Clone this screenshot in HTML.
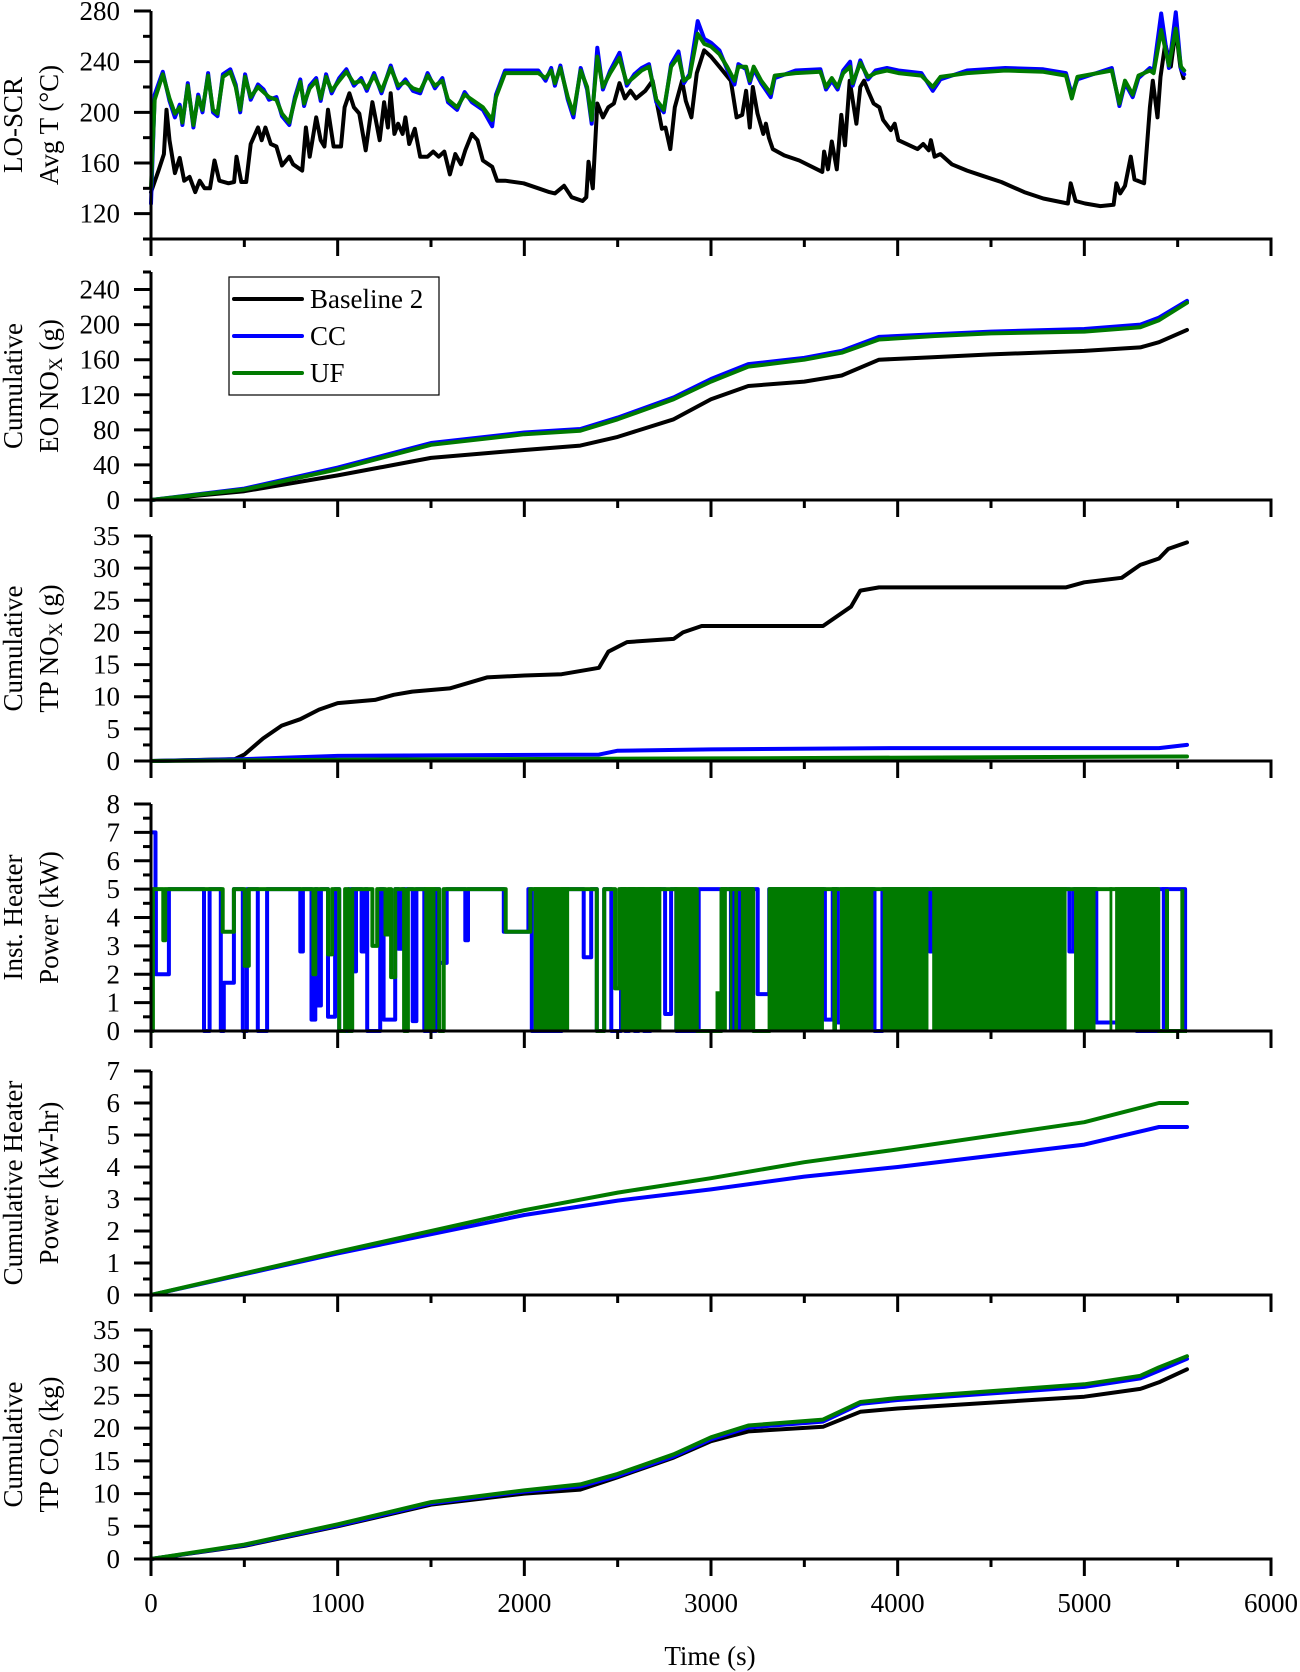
<!DOCTYPE html>
<html><head><meta charset="utf-8"><style>
html,body{margin:0;padding:0;background:#fff}
svg{display:block;font-family:"Liberation Serif",serif}
</style></head><body>
<svg id="chart" width="1300" height="1672" viewBox="0 0 1300 1672" xmlns="http://www.w3.org/2000/svg"></svg>
<script>
// ---- Panel 1: LO-SCR avg T ----
const tempTimesBase=[0,40,69,83,99,128,154,178,207,237,261,287,316,340,366,415,445,458,484,510,534,573,593,613,642,672,702,741,761,810,830,850,885,909,929,948,978,1018,1037,1063,1087,1116,1150,1186,1225,1249,1269,1284,1304,1324,1348,1363,1383,1413,1442,1482,1512,1541,1571,1601,1630,1660,1684,1719,1749,1778,1828,1854,1897,1996,2075,2134,2164,2213,2253,2312,2332,2344,2367,2391,2421,2450,2480,2510,2539,2569,2598,2648,2687,2717,2737,2756,2782,2806,2845,2865,2895,2924,2963,3000,3045,3106,3137,3167,3188,3208,3224,3249,3280,3294,3310,3331,3392,3473,3596,3606,3627,3647,3674,3698,3718,3743,3779,3800,3820,3841,3871,3902,3922,3963,3984,4004,4106,4137,4167,4178,4198,4229,4290,4372,4453,4555,4678,4780,4912,4927,4953,5004,5086,5157,5172,5192,5218,5249,5269,5320,5351,5367,5392,5408,5433,5463,5490,5514,5531];
const tempBase=[137,154,167,202,178,152,164,146,149,137,146,140,140,162,146,144,145,165,145,145,175,188,178,188,175,173,158,165,159,154,188,165,196,178,173,202,173,173,204,215,204,199,170,208,178,208,188,215,183,191,183,196,175,187,165,165,169,165,169,151,167,159,170,183,178,162,157,146,146,144,140,137,136,142,133,130,133,161,140,207,196,204,207,223,211,217,211,217,225,202,187,188,171,204,225,209,196,231,249,244,236,225,196,198,217,188,220,199,183,191,180,171,166,162,153,169,155,177,155,198,174,225,191,220,225,217,207,204,194,186,191,178,171,175,170,178,165,167,159,154,150,145,137,132,128,144,130,128,126,127,144,136,142,165,147,144,204,225,196,228,254,236,266,236,227];
const tempTimesHeat=[0,20,63,99,128,154,168,197,227,253,276,306,332,356,385,425,454,478,504,534,573,603,632,672,702,741,771,800,820,850,885,909,938,968,1008,1047,1087,1126,1156,1195,1235,1284,1324,1363,1403,1442,1482,1521,1561,1591,1640,1680,1719,1778,1828,1848,1897,2075,2114,2144,2164,2193,2233,2263,2302,2336,2361,2391,2421,2460,2510,2549,2589,2628,2668,2707,2747,2786,2826,2855,2885,2929,2964,3000,3045,3086,3126,3147,3188,3208,3229,3269,3320,3341,3453,3586,3616,3647,3678,3708,3745,3759,3800,3841,3882,3943,4004,4127,4188,4229,4372,4576,4780,4902,4933,4963,5147,5188,5218,5259,5290,5351,5371,5412,5453,5490,5518,5535];
const tempUF=[141,210,230,211,199,204,192,221,190,212,202,229,202,199,228,232,220,202,228,212,220,216,212,210,199,192,210,224,207,219,225,211,228,217,225,232,223,225,219,229,217,235,221,224,219,217,229,221,225,210,204,214,210,204,194,212,231,231,227,233,223,235,212,199,233,220,194,244,220,231,243,223,228,233,236,210,202,236,244,225,228,262,254,252,246,236,225,236,236,225,236,225,215,229,231,232,220,227,220,231,236,223,239,228,231,233,231,229,220,228,231,233,232,229,211,228,233,207,225,214,229,233,231,265,237,266,236,233];
const tempCC=[128,214,232,209,196,206,190,223,188,214,200,231,200,197,230,234,222,200,230,210,222,218,210,212,197,190,212,226,205,221,227,209,230,215,227,234,221,227,217,231,215,237,219,226,217,215,231,219,227,208,202,216,208,202,189,214,233,233,225,235,221,237,210,196,235,218,191,251,218,233,247,221,230,235,238,208,200,238,248,223,230,272,258,255,249,234,222,238,234,223,234,223,212,227,233,234,218,225,218,233,240,221,241,226,233,235,233,231,217,226,233,235,234,231,214,226,235,205,223,212,227,235,233,278,235,279,234,230];
// ---- Panel 2: cumulative EO NOx ----
const eoTimes=[0,500,1000,1500,2000,2300,2500,2800,3000,3200,3500,3700,3900,4200,4500,5000,5300,5400,5550];
const eoBase=[0,10,28,48,57,62,72,92,115,130,135,142,160,163,166,170,174,180,194];
const eoCC=[0,13,37,65,77,81,94,117,138,155,162,170,186,189,192,195,200,208,227];
const eoUF=[0,12,35,63,75,79,92,115,135,152,160,168,183,187,190,192,197,205,225];
// ---- Panel 3: cumulative TP NOx ----
const tpTimesBase=[0,300,450,500,600,700,800,900,1000,1200,1300,1400,1600,1800,2000,2200,2400,2450,2550,2800,2850,2950,3600,3750,3800,3900,4900,5000,5200,5300,5400,5450,5550];
const tpBase=[0,0.2,0.3,1,3.5,5.5,6.5,8,9,9.5,10.3,10.8,11.3,13,13.3,13.5,14.5,17,18.5,19,20,21,21,24,26.5,27,27,27.8,28.5,30.5,31.5,33,34];
const tpTimesCC=[0,500,1000,2400,2500,3000,4000,5400,5550];
const tpCC=[0,0.3,0.8,1.0,1.6,1.8,2.0,2.0,2.5];
const tpTimesUF=[0,1000,3000,5550];
const tpUF=[0,0.2,0.4,0.7];
// ---- Panel 4: instantaneous heater power (dips: start, end, level) ----
const heatOn=5;
const ccDips=[[0,22,7],[26,95,2.0],[284,313,0],[373,389,0],[389,442,1.7],[492,512,0],[571,621,0],[800,813,2.8],[859,879,0.4],[889,909,0.9],[948,984,0.5],[1008,1058,0],[1087,1097,2.1],[1127,1147,2.8],[1157,1226,0],[1246,1306,0.4],[1325,1345,2.9],[1401,1421,0.35],[1464,1524,0],[1544,1583,2.4],[1683,1697,3.2],[1890,2020,3.5],[2040,2198,0],[2317,2357,2.6],[2387,2427,0],[2466,2516,0],[2540,2560,0],[2590,2610,0],[2640,2675,0],[2754,2784,0.6],[2814,2933,0],[3250,3311,1.3],[3609,3650,0.4],[3680,3721,0.3],[3875,3916,0],[4172,4180,2.8],[4920,4941,2.8],[5064,5197,0.3],[5279,5391,0],[5540,5550,0]];
const ccBands=[[3096,3209],[5280,5390],[5415,5450]];
const ufDips=[[0,8,0],[65,75,3.2],[383,442,3.5],[502,522,2.3],[869,879,2.0],[948,968,2.7],[1008,1038,0],[1058,1077,0],[1186,1210,3.0],[1256,1270,3.4],[1286,1306,1.9],[1355,1375,0],[1544,1567,0],[1900,2030,3.5],[2387,2427,0],[2486,2506,1.5],[2923,3055,0],[3225,3312,0],[5395,5550,0]];
const ufBands=[[1464,1524],[2050,2240],[2516,2734],[2804,2923],[3055,3085],[3100,3115],[3125,3145],[3160,3225],[3312,3605],[3650,3675],[3690,3870],[3920,4165],[4185,4905],[4945,5060],[5135,5150],[5165,5395]];
const ufPulses=[[3035,1.4],[5443,5],[5525,5]];
// ---- Panel 5: cumulative heater energy ----
const chTimes=[0,1000,2000,2500,3000,3500,4000,5000,5400,5550];
const chCC=[0,1.3,2.5,2.95,3.3,3.7,4.0,4.7,5.25,5.25];
const chUF=[0,1.35,2.65,3.2,3.65,4.15,4.55,5.4,6.0,6.0];
// ---- Panel 6: cumulative TP CO2 ----
const co2Times=[0,500,1000,1500,2000,2300,2500,2800,3000,3200,3600,3800,4000,5000,5300,5400,5550];
const co2Base=[0,2,5,8.3,10,10.6,12.5,15.5,18,19.5,20.2,22.5,23,24.8,26,27,29];
const co2CC=[0,2.1,5.1,8.5,10.3,11.1,12.7,15.7,18.3,20.1,21.0,23.7,24.3,26.3,27.6,28.8,30.6];
const co2UF=[0,2.2,5.3,8.7,10.5,11.4,13,16,18.6,20.4,21.3,24,24.6,26.7,28,29.3,31];
const xTickLabels=["0","1000","2000","3000","4000","5000","6000"];

const NS="http://www.w3.org/2000/svg";
const svg=document.getElementById('chart');
const X0=151,X1=1271,TMAX=6000;
const xs=t=>X0+(X1-X0)*t/TMAX;
const BLACK="#000",BLUE="#0000ff",GREEN="#007a00";
function mk(tag,attrs,parent){const e=document.createElementNS(NS,tag);for(const k in attrs)e.setAttribute(k,attrs[k]);(parent||svg).appendChild(e);return e;}

const panels=[
 {name:'lo-scr-temp',top:11,bot:239,min:100,max:280,major:40,minor:20,t1:'LO-SCR',t2:'Avg T (°C)'},
 {name:'eo-nox',top:272,bot:500,min:0,max:260,major:40,minor:20,t1:'Cumulative',t2:['EO NO','X',' (g)']},
 {name:'tp-nox',top:536,bot:761,min:0,max:35,major:5,minor:2.5,t1:'Cumulative',t2:['TP NO','X',' (g)']},
 {name:'heater-power',top:804,bot:1031,min:0,max:8,major:1,minor:0.5,t1:'Inst. Heater',t2:'Power (kW)'},
 {name:'cum-heater',top:1071,bot:1295,min:0,max:7,major:1,minor:0.5,t1:'Cumulative Heater',t2:'Power (kW-hr)'},
 {name:'tp-co2',top:1330,bot:1559,min:0,max:35,major:5,minor:2.5,t1:'Cumulative',t2:['TP CO','2',' (kg)']}
];
panels.forEach(p=>{p.ys=v=>p.bot-(p.bot-p.top)*(v-p.min)/(p.max-p.min);});

function line(g,p,times,vals,color,name){
  let d='';times.forEach((t,i)=>{d+=(i?'L':'M')+xs(t).toFixed(1)+','+p.ys(vals[i]).toFixed(1);});
  const e=mk('path',{d:d,fill:'none',stroke:color,'stroke-width':4,'stroke-linejoin':'round','stroke-linecap':'round'},g);
  
  
}
function heatSeries(g,p,dips,color,name,end){
  let d='';let prev=null;
  for(let t=0;t<=end;t+=2){
    let v=heatOn;for(const dp of dips){if(t>=dp[0]&&t<=dp[1]){v=dp[2];}}
    if(prev!==null&&v!==prev){d+='L'+xs(t).toFixed(1)+','+p.ys(prev).toFixed(1);}
    d+=(d?'L':'M')+xs(t).toFixed(1)+','+p.ys(v).toFixed(1);prev=v;
  }
  const e=mk('path',{d:d,fill:'none',stroke:color,'stroke-width':4,'stroke-linejoin':'round'},g);
  
  
}
function bands(g,p,arr,color,name){
  arr.forEach(b=>{
    const r=mk('rect',{x:xs(b[0]),y:p.ys(heatOn)-2,width:xs(b[1])-xs(b[0]),height:p.ys(0)-p.ys(heatOn)+2,fill:color},g);
    
    
  });
}

panels.forEach((p,pi)=>{
  const g=mk('g',{});
  
  
  if(pi===0){line(g,p,tempTimesBase,tempBase,BLACK,'baseline-2-line');line(g,p,tempTimesHeat,tempCC,BLUE,'cc-line');line(g,p,tempTimesHeat,tempUF,GREEN,'uf-line');}
  if(pi===1){line(g,p,eoTimes,eoBase,BLACK,'baseline-2-line');line(g,p,eoTimes,eoCC,BLUE,'cc-line');line(g,p,eoTimes,eoUF,GREEN,'uf-line');}
  if(pi===2){line(g,p,tpTimesBase,tpBase,BLACK,'baseline-2-line');line(g,p,tpTimesCC,tpCC,BLUE,'cc-line');line(g,p,tpTimesUF,tpUF,GREEN,'uf-line');}
  if(pi===3){
    heatSeries(g,p,ccDips,BLUE,'cc-line',5550);bands(g,p,ccBands,BLUE,'cc-band');
    heatSeries(g,p,ufDips,GREEN,'uf-line',5550);bands(g,p,ufBands,GREEN,'uf-band');
    ufPulses.forEach(q=>{const l=mk('line',{x1:xs(q[0]),x2:xs(q[0]),y1:p.ys(0),y2:p.ys(q[1]),stroke:GREEN,'stroke-width':4},g);
      
      });
  }
  if(pi===4){line(g,p,chTimes,chCC,BLUE,'cc-line');line(g,p,chTimes,chUF,GREEN,'uf-line');}
  if(pi===5){line(g,p,co2Times,co2Base,BLACK,'baseline-2-line');line(g,p,co2Times,co2CC,BLUE,'cc-line');line(g,p,co2Times,co2UF,GREEN,'uf-line');}
  const ax=mk('g',{stroke:'#000','stroke-width':3},g);
  
  
  mk('line',{x1:X0,x2:X0,y1:p.top,y2:p.bot+1.5},ax);
  mk('line',{x1:X0-1.5,x2:X1+1.5,y1:p.bot,y2:p.bot},ax);
  for(let t=0;t<=TMAX;t+=500){const maj=t%1000===0;mk('line',{x1:xs(t),x2:xs(t),y1:p.bot,y2:p.bot+(maj?17:8)},ax);}
  const n=Math.round((p.max-p.min)/p.minor);
  for(let i=0;i<=n;i++){const v=p.min+i*p.minor;const r=v/p.major;const maj=Math.abs(r-Math.round(r))<1e-6;
    mk('line',{x1:X0,x2:X0-(maj?17:8),y1:p.ys(v),y2:p.ys(v)},ax);
    if(maj){const tx=mk('text',{x:120,y:p.ys(v),'text-anchor':'end','dominant-baseline':'central','font-size':27,fill:'#000',stroke:'none'},g);tx.textContent=String(v);
      
      }
  }
  const cy=(p.top+p.bot)/2;
  const a=mk('text',{x:0,y:0,transform:`translate(13,${cy}) rotate(-90)`,'text-anchor':'middle','dominant-baseline':'central','font-size':27},g);
  a.textContent=p.t1;
  
  
  const b=mk('text',{x:0,y:0,transform:`translate(49,${cy}) rotate(-90)`,'text-anchor':'middle','dominant-baseline':'central','font-size':27},g);
  
  
  if(typeof p.t2==='string'){b.textContent=p.t2;}else{
    const s1=mk('tspan',{},b);s1.textContent=p.t2[0];
    const s2=mk('tspan',{dy:7,'font-size':19},b);s2.textContent=p.t2[1];
    const s3=mk('tspan',{dy:-7},b);s3.textContent=p.t2[2];
  }
});
xTickLabels.forEach((s,i)=>{const t=mk('text',{x:xs(i*1000),y:1603,'text-anchor':'middle','dominant-baseline':'central','font-size':27});t.textContent=s;
  
  });
const xt=mk('text',{x:710,y:1656,'text-anchor':'middle','dominant-baseline':'central','font-size':27});xt.textContent='Time (s)';


const lg=mk('g',{});


mk('rect',{x:229,y:277,width:210,height:118,fill:'#fff',stroke:'#000','stroke-width':1.2},lg);
[['Baseline 2',BLACK],['CC',BLUE],['UF',GREEN]].forEach((e,i)=>{
  const y=299+i*37;
  const ent=mk('g',{},lg);
  
  
  mk('line',{x1:234,x2:302,y1:y,y2:y,stroke:e[1],'stroke-width':4,'stroke-linecap':'round'},ent);
  const t=mk('text',{x:310,y:y,'dominant-baseline':'central','font-size':27},ent);t.textContent=e[0];
});
</script>
</body></html>
